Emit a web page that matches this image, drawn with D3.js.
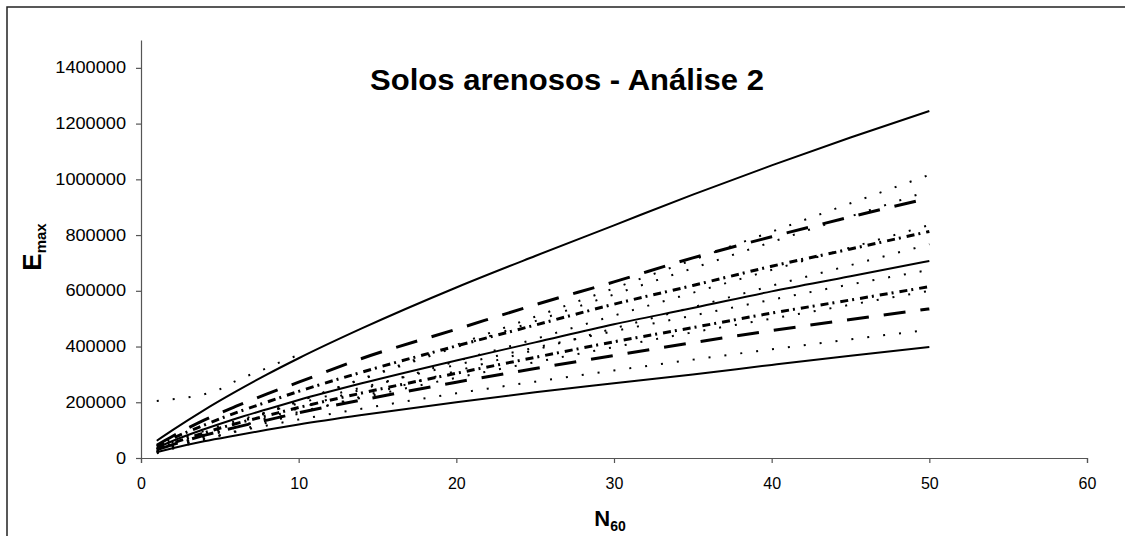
<!DOCTYPE html>
<html><head><meta charset="utf-8">
<script src="https://cdn.jsdelivr.net/npm/d3@7"></script>
<style>
html,body{margin:0;padding:0;background:#fff;overflow:hidden;}
svg{display:block;}
text{font-family:"Liberation Sans",Arial,sans-serif;fill:#000;}
</style></head>
<body>
<svg id="chart" width="1125" height="536"></svg>
<script>
// ---- data ----
const title = "Solos arenosos - Análise 2";
const xTicks = [0, 10, 20, 30, 40, 50, 60];
const yTicks = [0, 200000, 400000, 600000, 800000, 1000000, 1200000, 1400000];
const nValues = [1, 2, 4, 6, 8, 10, 14, 20, 25, 30, 35, 40, 45, 50];

// statistical curves
const topSolid   = [62000, 100000, 172000, 238000, 300000, 358000, 465000, 612000, 725000, 835000, 945000, 1050000, 1150000, 1245000];
const upperLongDash = [46000, 78000, 136000, 185000, 230000, 272000, 357000, 462000, 550000, 632000, 718000, 794000, 865000, 933000];
const upperDashDot  = [41000, 70000, 118000, 162000, 201000, 239000, 308000, 402000, 477000, 552000, 619000, 688000, 750000, 813000];
const midSolid   = [36000, 61000, 103000, 141000, 175000, 208000, 268000, 350000, 415000, 480000, 538000, 598000, 652000, 707000];
const lowerDashDot  = [31000, 53000, 90000, 123000, 152000, 181000, 233000, 304000, 361000, 417000, 468000, 520000, 567000, 615000];
const lowerLongDash = [29000, 48000, 81000, 110000, 136000, 162000, 208000, 272000, 321000, 368000, 414000, 457000, 497000, 535000];
const bottomSolid = [21000, 35000, 60000, 81000, 101000, 120000, 154000, 200000, 236000, 268000, 300000, 334000, 367000, 398000];

// individual correlations (dotted)
const dot1 = [20000, 41000, 81000, 122000, 162000, 203000, 284000, 406000, 507000, 609000, 711000, 812000, 914000, 1016000];
const dot2 = [22000, 44000, 85000, 125000, 165000, 204000, 282000, 398000, 491000, 587000, 681000, 775000, 867000, 959000];
const dot3 = [19500, 38000, 74000, 109000, 144000, 178000, 246000, 347000, 427000, 511000, 593000, 675000, 755000, 836000];
const dot4 = [17000, 33000, 65000, 96000, 127000, 159000, 221000, 312000, 388000, 465000, 541000, 618000, 692000, 767000];
const dot5 = [33000, 57000, 97000, 132000, 165000, 196000, 253000, 334000, 396000, 455000, 511000, 568000, 623000, 675000];
const dot6 = [26000, 46000, 79000, 110000, 138000, 165000, 216000, 288000, 344000, 398000, 451000, 500000, 550000, 600000];
const dot7 = [24500, 41000, 69000, 94000, 117000, 138000, 177000, 232000, 274000, 314000, 353000, 390000, 426000, 460000];
const shortN = [1, 2, 3, 4, 5, 6, 7, 8, 9, 10];
const dot8 = [204600, 210700, 217900, 228700, 246600, 276400, 300500, 323000, 348000, 369700];

// ---- drawing ----
const svg = d3.select("#chart");
const x = d3.scaleLinear().domain([0, 60]).range([141, 1087]);
const y = d3.scaleLinear().domain([0, 1500000]).range([458, 40]);

// outer frame: only its left and top edges are inside the picture
svg.append("path").attr("d", "M7,540V7H1130")
  .attr("fill", "none").attr("stroke", "#222").attr("stroke-width", 1.5);

// axes
const yAxis = d3.axisLeft(y).tickValues(yTicks).tickFormat(d3.format("d")).tickSize(5).tickSizeOuter(0).tickPadding(10);
const gy = svg.append("g").attr("transform", "translate(141,0)").call(yAxis);
gy.selectAll("text").style("font-size", "16px").attr("fill", "#000")
  .attr("textLength", d => String(d).length * 10.1).attr("lengthAdjust", "spacingAndGlyphs");
const xAxis = d3.axisBottom(x).tickValues(xTicks).tickFormat(d3.format("d")).tickSize(5).tickSizeOuter(5).tickPadding(15);
const gx = svg.append("g").attr("transform", "translate(0,458)").call(xAxis);
gx.selectAll("text").style("font-size", "16px").attr("fill", "#000");
svg.selectAll(".domain, .tick line").attr("stroke", "#555").attr("stroke-width", 1.2);

const plot = svg.append("g");
const series = [
  {v: dot1, n: nValues, style: "dot"},
  {v: dot2, n: nValues, style: "dot"},
  {v: dot3, n: nValues, style: "dot"},
  {v: dot4, n: nValues, style: "dot"},
  {v: dot5, n: nValues, style: "dot"},
  {v: dot6, n: nValues, style: "dot"},
  {v: dot7, n: nValues, style: "dot"},
  {v: dot8, n: shortN, style: "dot"},
  {v: topSolid, n: nValues, style: "solid"},
  {v: upperLongDash, n: nValues, style: "longdash"},
  {v: upperDashDot, n: nValues, style: "dashdot"},
  {v: midSolid, n: nValues, style: "solid"},
  {v: lowerDashDot, n: nValues, style: "dashdot"},
  {v: lowerLongDash, n: nValues, style: "longdash"},
  {v: bottomSolid, n: nValues, style: "solid"}
];
const styles = {
  solid: {w: 2, dash: null},
  longdash: {w: 3, dash: "22,15"},
  dashdot: {w: 3, dash: "8,4,2,6"},
  dot: {w: 2, dash: "2,14"}
};
const line = d3.line().x(d => x(d[0])).y(d => y(d[1])).curve(d3.curveMonotoneX);
series.forEach(s => {
  const pts = s.n.map((n, i) => [n, s.v[i]]);
  const st = styles[s.style];
  plot.append("path").attr("d", line(pts)).attr("fill", "none").attr("stroke", "#000")
    .attr("stroke-width", st.w).attr("stroke-dasharray", st.dash).attr("stroke-linecap", "butt");
});

// title
svg.append("text").attr("x", 567).attr("y", 90).attr("text-anchor", "middle")
  .style("font-size", "29px").style("font-weight", "bold")
  .attr("textLength", 394).attr("lengthAdjust", "spacingAndGlyphs").text(title);

// y axis title
const yt = svg.append("text").attr("transform", "translate(41,247) rotate(-90)").attr("text-anchor", "middle")
  .style("font-weight", "bold");
yt.append("tspan").style("font-size", "26px").text("E");
yt.append("tspan").style("font-size", "15px").attr("dy", 5).text("max");

// x axis title
const xt = svg.append("text").attr("x", 610).attr("y", 526).attr("text-anchor", "middle").style("font-weight", "bold");
xt.append("tspan").style("font-size", "22px").text("N");
xt.append("tspan").style("font-size", "14px").attr("dy", 5).text("60");
</script>
</body></html>
